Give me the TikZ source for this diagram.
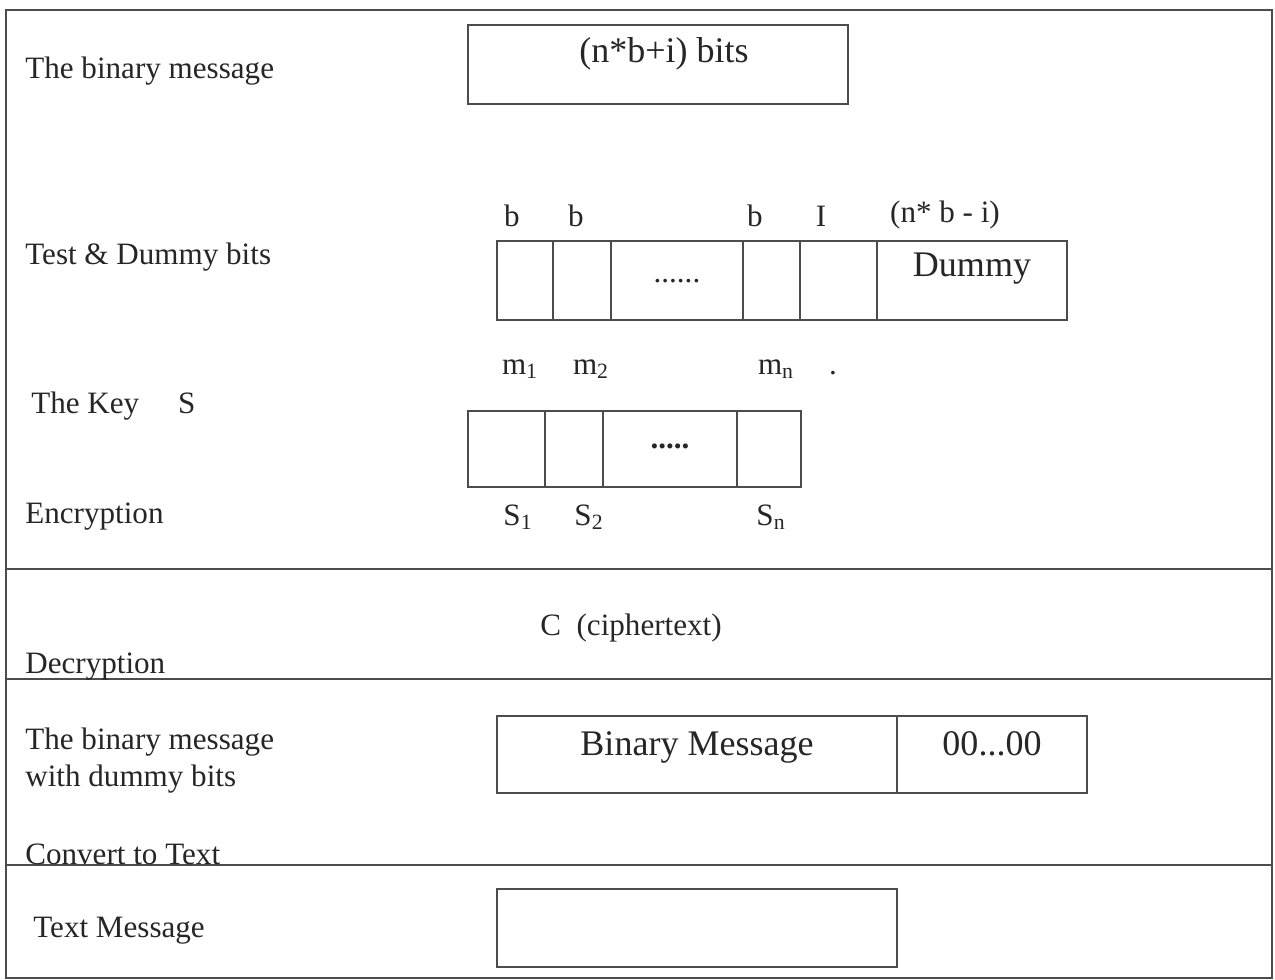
\documentclass[tikz,border=0pt]{standalone}
\usepackage{fontspec}
\setmainfont{Liberation Serif}
\usetikzlibrary{positioning}

\begin{document}
\begin{tikzpicture}[
    x=0.02cm, y=-0.02cm,
    node distance=0pt,
    every node/.style={font=\fontsize{17.7}{21}\selectfont, text=black!85},
    rule/.style={line width=1.1pt, draw=black!70},
    cell/.style={
      rectangle, draw=black!70, line width=1.1pt,
      inner sep=0pt, outer sep=0pt, anchor=west
    },
    bigtext/.style={font=\fontsize{20.5}{24}\selectfont},
    side/.style={anchor=west, align=left, inner sep=0pt}
  ]

  \useasboundingbox (0,0) rectangle (1275,980);

  % Outer frame and dividers
  \draw[rule] (6,10) rectangle (1272,978);
  \draw[rule] (6,569) -- (1272,569);
  \draw[rule] (6,679) -- (1272,679);
  \draw[rule] (6,865) -- (1272,865);

  % Left labels
  \node[side] (lbinary) at (25,71) {The binary message};
  \node[side] (ltest) at (25,257) {Test \& Dummy bits};
  \node[side] (lkey) at (31,406) {The Key\quad\ S};
  \node[side] (lenc) at (25,517) {Encryption};
  \node[side] (ldec) at (25,667) {Decryption};
  \node[side] (lwithdummy) at (25,761) {The binary message\\with dummy bits};
  \node[side] (lconvert) at (25,854) {Convert to Text};
  \node[side] (ltextmsg) at (33,931) {Text Message};

  % The binary message
  \node[cell, minimum width=7.6cm, minimum height=1.58cm] (msg) at (468,64.5) {};
  \node[bigtext] (msgbits) at (664,54) {(n*b+i) bits};

  % Test & Dummy bits
  \node[cell, minimum width=1.12cm, minimum height=1.58cm] (tb1) at (497,280.5) {};
  \node[cell, minimum width=1.16cm, minimum height=1.58cm, right=of tb1] (tb2) {};
  \node[cell, minimum width=2.64cm, minimum height=1.58cm, right=of tb2] (tdots) {\raisebox{-0.3ex}{......}};
  \node[cell, minimum width=1.14cm, minimum height=1.58cm, right=of tdots] (tbn) {};
  \node[cell, minimum width=1.54cm, minimum height=1.58cm, right=of tbn] (ti) {};
  \node[cell, minimum width=3.8cm, minimum height=1.58cm, right=of ti] (tdummy) {};
  \node[bigtext] (dummytext) at (972,269) {Dummy};

  \node (lb1) at (512,216) {b};
  \node (lb2) at (576,216) {b};
  \node (lbn) at (755,216) {b};
  \node (li) at (821,216) {I};
  \node (lrest) at (945,215) {(n* b - i)};

  % The key S
  \node[cell, minimum width=1.54cm, minimum height=1.52cm] (k1) at (468,449) {};
  \node[cell, minimum width=1.16cm, minimum height=1.52cm, right=of k1] (k2) {};
  \node[cell, minimum width=2.68cm, minimum height=1.52cm, right=of k2] (kdots) {\raisebox{0.4ex}{\textbf{.....}}};
  \node[cell, minimum width=1.28cm, minimum height=1.52cm, right=of kdots] (kn) {};

  \node (m1) at (520,369) {m\textsubscript{1}};
  \node (m2) at (591,369) {m\textsubscript{2}};
  \node (mn) at (776,369) {m\textsubscript{n}};
  \node (mdot) at (833,373) {.};
  \node (s1) at (518,517) {S\textsubscript{1}};
  \node (s2) at (589,517) {S\textsubscript{2}};
  \node (sn) at (771,517) {S\textsubscript{n}};

  % Ciphertext
  \node (cipher) at (631,628) {C\ \ (ciphertext)};

  % Binary message with dummy bits
  \node[cell, minimum width=8.0cm, minimum height=1.54cm] (binmsg) at (497,754.5) {};
  \node[cell, minimum width=3.8cm, minimum height=1.54cm, right=of binmsg] (zeros) {};
  \node[bigtext] (binmsgtext) at (697,747) {Binary Message};
  \node[bigtext] (zerostext) at (992,744) {00...00};

  % Text message
  \node[cell, minimum width=8.0cm, minimum height=1.56cm] (textmsg) at (497,928) {};

\end{tikzpicture}
\end{document}
